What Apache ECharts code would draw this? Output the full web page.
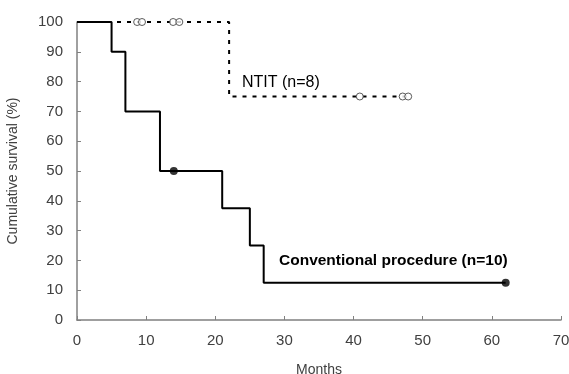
<!DOCTYPE html>
<html><head><meta charset="utf-8">
<script src="https://cdn.jsdelivr.net/npm/echarts@6/dist/echarts.min.js"></script>
<style>html,body{margin:0;padding:0;background:#fff}#c{width:569px;height:374px}</style>
</head><body><div id="c"></div>
<script>
// Kaplan-Meier steps (months, survival %)
const convSteps = [[0,100],[5,90],[7,70],[12,50],[21,37.5],[25,25],[27,12.5],[62,12.5]];
const convCensored = [[14,50],[62,12.5]];
const ntitSteps = [[0,100],[22,75],[48,75]];
const ntitCensored = [[8.7,100],[9.4,100],[13.9,100],[14.8,100],[40.9,75],[47.1,75],[47.9,75]];
const xTicks = [0,10,20,30,40,50,60,70];
const yTicks = [0,10,20,30,40,50,60,70,80,90,100];

const axisCol = '#808080';
const labelCol = '#404040';
const chart = echarts.init(document.getElementById('c'));
chart.setOption({
  animation:false,
  grid:{left:77,right:8,top:22,bottom:54,containLabel:false,outerBoundsMode:'none'},
  xAxis:{type:'value',min:0,max:70,interval:10,name:'Months',nameLocation:'middle',nameGap:43,
    nameTextStyle:{color:labelCol,fontSize:14,fontFamily:'Liberation Sans, Arial'},
    axisLine:{lineStyle:{color:axisCol,width:1.5}},
    axisTick:{show:true,inside:true,length:4,lineStyle:{color:axisCol}},
    axisLabel:{color:labelCol,fontSize:15,margin:13,fontFamily:'Liberation Sans, Arial'},
    splitLine:{show:false}},
  yAxis:{type:'value',min:0,max:100,interval:10,name:'Cumulative survival (%)',nameLocation:'middle',nameGap:57,
    nameTextStyle:{color:labelCol,fontSize:14,fontFamily:'Liberation Sans, Arial'},
    axisLine:{show:true,lineStyle:{color:axisCol,width:1.5}},
    axisTick:{show:true,inside:true,length:4,lineStyle:{color:axisCol}},
    axisLabel:{color:labelCol,fontSize:15,margin:14,fontFamily:'Liberation Sans, Arial'},
    splitLine:{show:false}},
  series:[
    {type:'line',data:ntitSteps,step:'end',symbol:'none',z:2,
      lineStyle:{color:'#000',width:2,type:[4,6]}},
    {type:'line',data:convSteps,step:'end',symbol:'none',z:3,
      lineStyle:{color:'#000',width:2}},
    {type:'scatter',data:ntitCensored,symbol:'circle',symbolSize:7,z:4,
      itemStyle:{color:'#fff',borderColor:'#333',borderWidth:1}},
    {type:'scatter',data:convCensored,symbol:'circle',symbolSize:8,z:4,
      itemStyle:{color:'#000'}}
  ],
  graphic:[
    {type:'text',left:242,top:75,style:{text:'NTIT (n=8)',fill:'#000',font:'16px "Liberation Sans", Arial'}},
    {type:'text',left:279,top:253,style:{text:'Conventional procedure (n=10)',fill:'#000',font:'bold 15.5px "Liberation Sans", Arial'}}
  ]
});
</script></body></html>
